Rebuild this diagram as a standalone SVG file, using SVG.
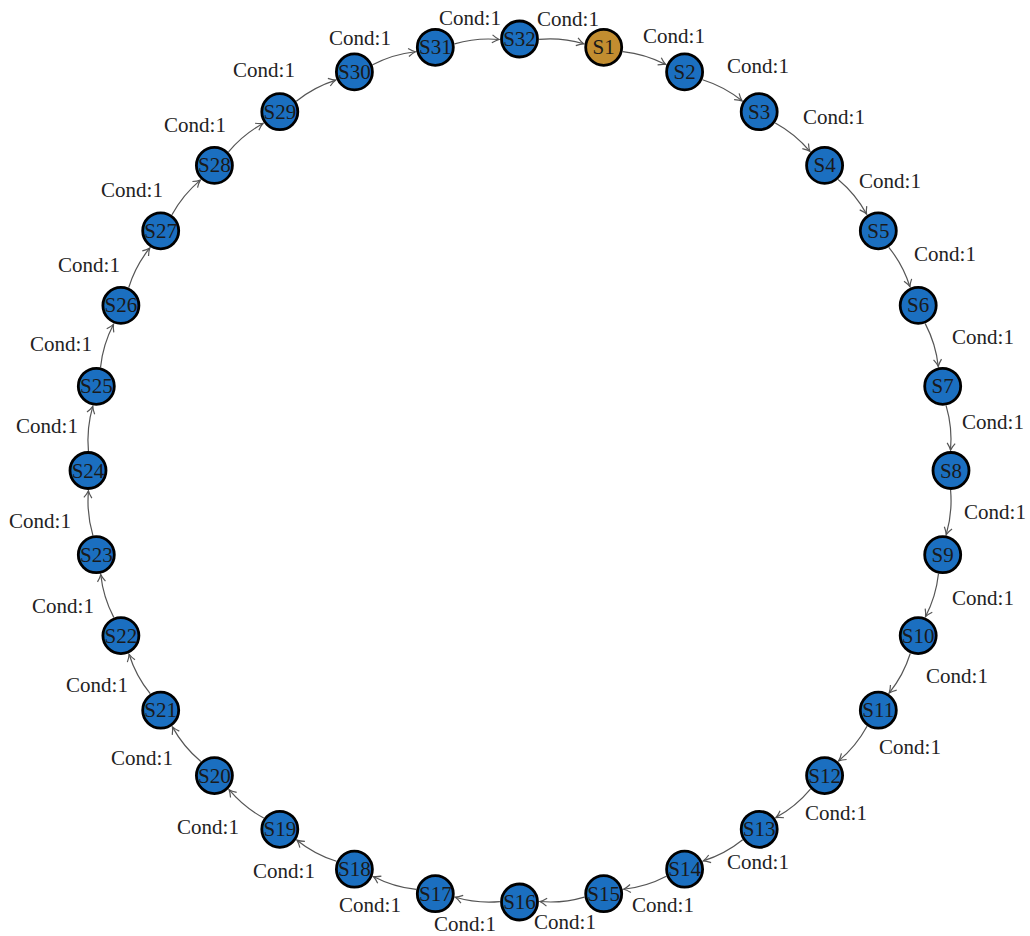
<svg xmlns="http://www.w3.org/2000/svg" width="1030" height="936" viewBox="0 0 1030 936">
<style>
.n circle{fill:#1b6fc0;stroke:#000;stroke-width:2.8}
.n.start circle{fill:#c28d30}
.n text{font-family:"Liberation Serif",serif;font-size:21px;fill:#1a1a1a;text-anchor:middle}
.lbl{font-family:"Liberation Serif",serif;font-size:21px;fill:#222;text-anchor:middle}
.e{fill:none;stroke:#555;stroke-width:1.2;marker-end:url(#arr)}
</style>
<defs>
<marker id="arr" viewBox="-9 -6 11 12" refX="0" refY="0" markerWidth="11" markerHeight="12" orient="auto" markerUnits="userSpaceOnUse">
<path d="M-7,-4 Q-3,-1 0,0 Q-3,1 -7,4" fill="none" stroke="#555" stroke-width="1.2"/>
</marker>
</defs>
<rect width="1030" height="936" fill="#fff"/>
<g id="connectors">
<path class="e" d="M539.07,39.44 A120,120 0 0 1 583.65,43.79" transform="rotate(0 519.5 470.5)"/>
<path class="e" d="M539.07,39.44 A120,120 0 0 1 583.65,43.79" transform="rotate(11.25 519.5 470.5)"/>
<path class="e" d="M539.07,39.44 A120,120 0 0 1 583.65,43.79" transform="rotate(22.5 519.5 470.5)"/>
<path class="e" d="M539.07,39.44 A120,120 0 0 1 583.65,43.79" transform="rotate(33.75 519.5 470.5)"/>
<path class="e" d="M539.07,39.44 A120,120 0 0 1 583.65,43.79" transform="rotate(45 519.5 470.5)"/>
<path class="e" d="M539.07,39.44 A120,120 0 0 1 583.65,43.79" transform="rotate(56.25 519.5 470.5)"/>
<path class="e" d="M539.07,39.44 A120,120 0 0 1 583.65,43.79" transform="rotate(67.5 519.5 470.5)"/>
<path class="e" d="M539.07,39.44 A120,120 0 0 1 583.65,43.79" transform="rotate(78.75 519.5 470.5)"/>
<path class="e" d="M539.07,39.44 A120,120 0 0 1 583.65,43.79" transform="rotate(90 519.5 470.5)"/>
<path class="e" d="M539.07,39.44 A120,120 0 0 1 583.65,43.79" transform="rotate(101.25 519.5 470.5)"/>
<path class="e" d="M539.07,39.44 A120,120 0 0 1 583.65,43.79" transform="rotate(112.5 519.5 470.5)"/>
<path class="e" d="M539.07,39.44 A120,120 0 0 1 583.65,43.79" transform="rotate(123.75 519.5 470.5)"/>
<path class="e" d="M539.07,39.44 A120,120 0 0 1 583.65,43.79" transform="rotate(135 519.5 470.5)"/>
<path class="e" d="M539.07,39.44 A120,120 0 0 1 583.65,43.79" transform="rotate(146.25 519.5 470.5)"/>
<path class="e" d="M539.07,39.44 A120,120 0 0 1 583.65,43.79" transform="rotate(157.5 519.5 470.5)"/>
<path class="e" d="M539.07,39.44 A120,120 0 0 1 583.65,43.79" transform="rotate(168.75 519.5 470.5)"/>
<path class="e" d="M539.07,39.44 A120,120 0 0 1 583.65,43.79" transform="rotate(180 519.5 470.5)"/>
<path class="e" d="M539.07,39.44 A120,120 0 0 1 583.65,43.79" transform="rotate(191.25 519.5 470.5)"/>
<path class="e" d="M539.07,39.44 A120,120 0 0 1 583.65,43.79" transform="rotate(202.5 519.5 470.5)"/>
<path class="e" d="M539.07,39.44 A120,120 0 0 1 583.65,43.79" transform="rotate(213.75 519.5 470.5)"/>
<path class="e" d="M539.07,39.44 A120,120 0 0 1 583.65,43.79" transform="rotate(225 519.5 470.5)"/>
<path class="e" d="M539.07,39.44 A120,120 0 0 1 583.65,43.79" transform="rotate(236.25 519.5 470.5)"/>
<path class="e" d="M539.07,39.44 A120,120 0 0 1 583.65,43.79" transform="rotate(247.5 519.5 470.5)"/>
<path class="e" d="M539.07,39.44 A120,120 0 0 1 583.65,43.79" transform="rotate(258.75 519.5 470.5)"/>
<path class="e" d="M539.07,39.44 A120,120 0 0 1 583.65,43.79" transform="rotate(270 519.5 470.5)"/>
<path class="e" d="M539.07,39.44 A120,120 0 0 1 583.65,43.79" transform="rotate(281.25 519.5 470.5)"/>
<path class="e" d="M539.07,39.44 A120,120 0 0 1 583.65,43.79" transform="rotate(292.5 519.5 470.5)"/>
<path class="e" d="M539.07,39.44 A120,120 0 0 1 583.65,43.79" transform="rotate(303.75 519.5 470.5)"/>
<path class="e" d="M539.07,39.44 A120,120 0 0 1 583.65,43.79" transform="rotate(315 519.5 470.5)"/>
<path class="e" d="M539.07,39.44 A120,120 0 0 1 583.65,43.79" transform="rotate(326.25 519.5 470.5)"/>
<path class="e" d="M539.07,39.44 A120,120 0 0 1 583.65,43.79" transform="rotate(337.5 519.5 470.5)"/>
<path class="e" d="M539.07,39.44 A120,120 0 0 1 583.65,43.79" transform="rotate(348.75 519.5 470.5)"/>
</g>
<g id="labels">
<text class="lbl" x="568" y="26">Cond:1</text>
<text class="lbl" x="674" y="43">Cond:1</text>
<text class="lbl" x="758" y="73">Cond:1</text>
<text class="lbl" x="834" y="124">Cond:1</text>
<text class="lbl" x="890" y="188">Cond:1</text>
<text class="lbl" x="945" y="261">Cond:1</text>
<text class="lbl" x="983" y="344">Cond:1</text>
<text class="lbl" x="993" y="429">Cond:1</text>
<text class="lbl" x="995" y="519">Cond:1</text>
<text class="lbl" x="983" y="605">Cond:1</text>
<text class="lbl" x="957" y="683">Cond:1</text>
<text class="lbl" x="910" y="754">Cond:1</text>
<text class="lbl" x="836" y="820">Cond:1</text>
<text class="lbl" x="758" y="869">Cond:1</text>
<text class="lbl" x="663" y="912">Cond:1</text>
<text class="lbl" x="565" y="929">Cond:1</text>
<text class="lbl" x="465" y="931">Cond:1</text>
<text class="lbl" x="370" y="912">Cond:1</text>
<text class="lbl" x="284" y="878">Cond:1</text>
<text class="lbl" x="208" y="834">Cond:1</text>
<text class="lbl" x="142" y="765">Cond:1</text>
<text class="lbl" x="97" y="692">Cond:1</text>
<text class="lbl" x="63" y="613">Cond:1</text>
<text class="lbl" x="40" y="528">Cond:1</text>
<text class="lbl" x="47" y="433">Cond:1</text>
<text class="lbl" x="61" y="351">Cond:1</text>
<text class="lbl" x="89" y="272">Cond:1</text>
<text class="lbl" x="132" y="197">Cond:1</text>
<text class="lbl" x="195" y="132">Cond:1</text>
<text class="lbl" x="264" y="77">Cond:1</text>
<text class="lbl" x="360" y="45">Cond:1</text>
<text class="lbl" x="470" y="25">Cond:1</text>
</g>
<g id="S1" class="n start"><circle cx="603.7" cy="47.3" r="18"/><text x="603.7" y="54.3">S1</text></g>
<g id="S2" class="n"><circle cx="684.6" cy="71.9" r="18"/><text x="684.6" y="78.9">S2</text></g>
<g id="S3" class="n"><circle cx="759.2" cy="111.7" r="18"/><text x="759.2" y="118.7">S3</text></g>
<g id="S4" class="n"><circle cx="824.6" cy="165.4" r="18"/><text x="824.6" y="172.4">S4</text></g>
<g id="S5" class="n"><circle cx="878.3" cy="230.8" r="18"/><text x="878.3" y="237.8">S5</text></g>
<g id="S6" class="n"><circle cx="918.2" cy="305.4" r="18"/><text x="918.2" y="312.4">S6</text></g>
<g id="S7" class="n"><circle cx="942.7" cy="386.3" r="18"/><text x="942.7" y="393.3">S7</text></g>
<g id="S8" class="n"><circle cx="951" cy="470.5" r="18"/><text x="951" y="477.5">S8</text></g>
<g id="S9" class="n"><circle cx="942.7" cy="554.7" r="18"/><text x="942.7" y="561.7">S9</text></g>
<g id="S10" class="n"><circle cx="918.2" cy="635.6" r="18"/><text x="918.2" y="642.6">S10</text></g>
<g id="S11" class="n"><circle cx="878.3" cy="710.2" r="18"/><text x="878.3" y="717.2">S11</text></g>
<g id="S12" class="n"><circle cx="824.6" cy="775.6" r="18"/><text x="824.6" y="782.6">S12</text></g>
<g id="S13" class="n"><circle cx="759.2" cy="829.3" r="18"/><text x="759.2" y="836.3">S13</text></g>
<g id="S14" class="n"><circle cx="684.6" cy="869.2" r="18"/><text x="684.6" y="876.2">S14</text></g>
<g id="S15" class="n"><circle cx="603.7" cy="893.7" r="18"/><text x="603.7" y="900.7">S15</text></g>
<g id="S16" class="n"><circle cx="519.5" cy="902" r="18"/><text x="519.5" y="909">S16</text></g>
<g id="S17" class="n"><circle cx="435.3" cy="893.7" r="18"/><text x="435.3" y="900.7">S17</text></g>
<g id="S18" class="n"><circle cx="354.4" cy="869.2" r="18"/><text x="354.4" y="876.2">S18</text></g>
<g id="S19" class="n"><circle cx="279.8" cy="829.3" r="18"/><text x="279.8" y="836.3">S19</text></g>
<g id="S20" class="n"><circle cx="214.4" cy="775.6" r="18"/><text x="214.4" y="782.6">S20</text></g>
<g id="S21" class="n"><circle cx="160.7" cy="710.2" r="18"/><text x="160.7" y="717.2">S21</text></g>
<g id="S22" class="n"><circle cx="120.9" cy="635.6" r="18"/><text x="120.9" y="642.6">S22</text></g>
<g id="S23" class="n"><circle cx="96.3" cy="554.7" r="18"/><text x="96.3" y="561.7">S23</text></g>
<g id="S24" class="n"><circle cx="88" cy="470.5" r="18"/><text x="88" y="477.5">S24</text></g>
<g id="S25" class="n"><circle cx="96.3" cy="386.3" r="18"/><text x="96.3" y="393.3">S25</text></g>
<g id="S26" class="n"><circle cx="120.9" cy="305.4" r="18"/><text x="120.9" y="312.4">S26</text></g>
<g id="S27" class="n"><circle cx="160.7" cy="230.8" r="18"/><text x="160.7" y="237.8">S27</text></g>
<g id="S28" class="n"><circle cx="214.4" cy="165.4" r="18"/><text x="214.4" y="172.4">S28</text></g>
<g id="S29" class="n"><circle cx="279.8" cy="111.7" r="18"/><text x="279.8" y="118.7">S29</text></g>
<g id="S30" class="n"><circle cx="354.4" cy="71.9" r="18"/><text x="354.4" y="78.9">S30</text></g>
<g id="S31" class="n"><circle cx="435.3" cy="47.3" r="18"/><text x="435.3" y="54.3">S31</text></g>
<g id="S32" class="n"><circle cx="519.5" cy="39" r="18"/><text x="519.5" y="46">S32</text></g>
</svg>
